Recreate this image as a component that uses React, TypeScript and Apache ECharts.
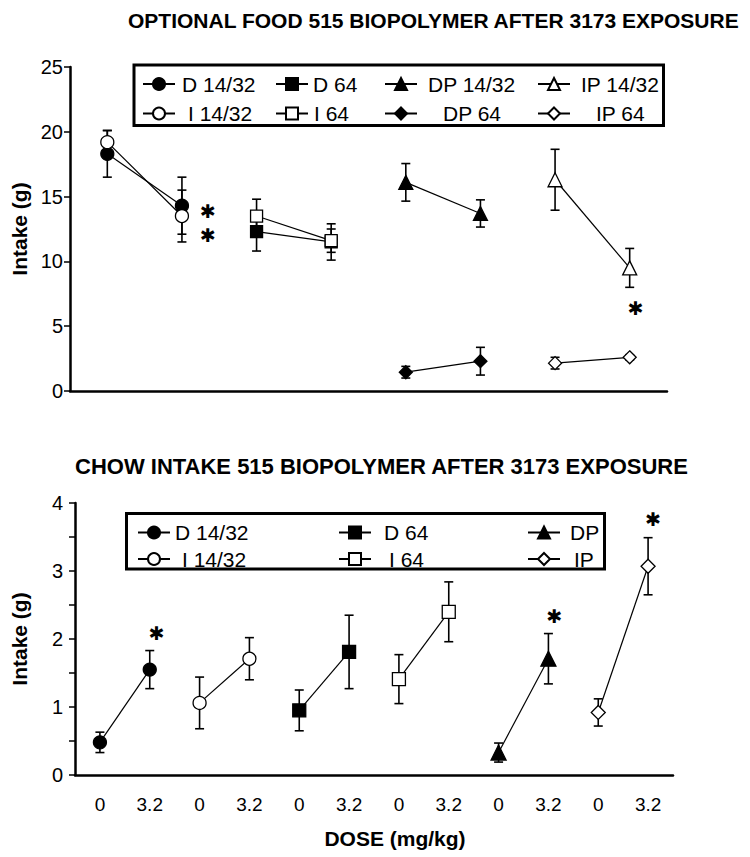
import React, { useEffect, useRef } from "react";
import * as echarts from "echarts";

// ---------- DATA ----------
const topDoses = ["0", "3.2", "0", "3.2", "0", "3.2", "0", "3.2"];
const bottomDoses = ["0", "3.2", "0", "3.2", "0", "3.2", "0", "3.2", "0", "3.2", "0", "3.2"];

const topTitle = "OPTIONAL FOOD 515 BIOPOLYMER AFTER 3173 EXPOSURE";
const bottomTitle = "CHOW INTAKE 515 BIOPOLYMER AFTER 3173 EXPOSURE";

// top panel: means and SEM, each at two category positions
const topD1432 = [18.3, 14.3];
const topD1432Err = [1.8, 2.2];
const topI1432 = [19.2, 13.5];
const topI1432Err = [0.9, 2.0];
const topD64 = [12.3, 11.5];
const topD64Err = [1.5, 1.4];
const topI64 = [13.5, 11.6];
const topI64Err = [1.3, 0.9];
const topDP1432 = [16.1, 13.7];
const topDP1432Err = [1.45, 1.05];
const topIP1432 = [16.3, 9.5];
const topIP1432Err = [2.35, 1.5];
const topDP64 = [1.45, 2.3];
const topDP64Err = [0.45, 1.07];
const topIP64 = [2.15, 2.6];
const topIP64Err = [0.45, 0.2];
const topStars = [[1, 13.9], [1, 12.0], [7, 6.44]];

// bottom panel
const botD1432 = [0.48, 1.55];
const botD1432Err = [0.15, 0.28];
const botI1432 = [1.06, 1.71];
const botI1432Err = [0.38, 0.31];
const botD64 = [0.95, 1.81];
const botD64Err = [0.3, 0.54];
const botI64 = [1.41, 2.4];
const botI64Err = [0.36, 0.44];
const botDP = [0.33, 1.71];
const botDPErr = [0.14, 0.37];
const botIP = [0.92, 3.07];
const botIPErr = [0.2, 0.42];
const botStars = [[1, 2.09], [9, 2.34], [11, 3.76]];

const STAR = "✱";

// ---------- STYLE ----------
const FONT = "'Liberation Sans', Arial, Helvetica, sans-serif";
const STAR_FONT = "'DejaVu Sans', sans-serif";
const BLACK = "#000";

type Spec = {
  name: string;
  idx: number[];
  vals: number[];
  errs: number[];
  symbol: string;
  filled: boolean;
  size: number;
  grid: number;
};

const topSpecs: Spec[] = [
  { name: "D 14/32", idx: [0, 1], vals: topD1432, errs: topD1432Err, symbol: "circle", filled: true, size: 13, grid: 0 },
  { name: "I 14/32", idx: [0, 1], vals: topI1432, errs: topI1432Err, symbol: "circle", filled: false, size: 13, grid: 0 },
  { name: "D 64", idx: [2, 3], vals: topD64, errs: topD64Err, symbol: "rect", filled: true, size: 12, grid: 0 },
  { name: "I 64", idx: [2, 3], vals: topI64, errs: topI64Err, symbol: "rect", filled: false, size: 12, grid: 0 },
  { name: "DP 14/32", idx: [4, 5], vals: topDP1432, errs: topDP1432Err, symbol: "triangle", filled: true, size: 14, grid: 0 },
  { name: "DP 64", idx: [4, 5], vals: topDP64, errs: topDP64Err, symbol: "diamond", filled: true, size: 13, grid: 0 },
  { name: "IP 14/32", idx: [6, 7], vals: topIP1432, errs: topIP1432Err, symbol: "triangle", filled: false, size: 14, grid: 0 },
  { name: "IP 64", idx: [6, 7], vals: topIP64, errs: topIP64Err, symbol: "diamond", filled: false, size: 13, grid: 0 },
];

const botSpecs: Spec[] = [
  { name: "D 14/32", idx: [0, 1], vals: botD1432, errs: botD1432Err, symbol: "circle", filled: true, size: 13, grid: 1 },
  { name: "I 14/32", idx: [2, 3], vals: botI1432, errs: botI1432Err, symbol: "circle", filled: false, size: 13, grid: 1 },
  { name: "D 64", idx: [4, 5], vals: botD64, errs: botD64Err, symbol: "rect", filled: true, size: 13, grid: 1 },
  { name: "I 64", idx: [6, 7], vals: botI64, errs: botI64Err, symbol: "rect", filled: false, size: 13, grid: 1 },
  { name: "DP", idx: [8, 9], vals: botDP, errs: botDPErr, symbol: "triangle", filled: true, size: 15, grid: 1 },
  { name: "IP", idx: [10, 11], vals: botIP, errs: botIPErr, symbol: "diamond", filled: false, size: 14, grid: 1 },
];

const legendItems = [
  // top panel
  { name: "D 14/32", left: 142, cy: 81, pad: 2 },
  { name: "D 64", left: 275, cy: 81, pad: 0 },
  { name: "DP 14/32", left: 384, cy: 81, pad: 6 },
  { name: "IP 14/32", left: 537, cy: 81, pad: 6 },
  { name: "I 14/32", left: 142, cy: 110.5, pad: 8 },
  { name: "I 64", left: 275, cy: 110.5, pad: 1 },
  { name: "DP 64", left: 384, cy: 110.5, pad: 21 },
  { name: "IP 64", left: 537, cy: 110.5, pad: 21 },
  // bottom panel
  { name: "D 14/32", left: 137, cy: 529.5, pad: 0 },
  { name: "D 64", left: 338, cy: 529.5, pad: 8 },
  { name: "DP", left: 527, cy: 529.5, pad: 5 },
  { name: "I 14/32", left: 137, cy: 556, pad: 7 },
  { name: "I 64", left: 338, cy: 556, pad: 13 },
  { name: "IP", left: 527, cy: 556, pad: 9 },
];

const topStarDx = [26, 26, 6];
const botStarDx = [7, 6, 5];

function lineSeries(s: Spec) {
  return {
    type: "line",
    name: s.name,
    xAxisIndex: s.grid,
    yAxisIndex: s.grid,
    data: s.idx.map((x, i) => [x, s.vals[i]]),
    symbol: s.symbol,
    symbolSize: s.size,
    showSymbol: true,
    z: 3,
    lineStyle: { color: BLACK, width: 1.2 },
    itemStyle: {
      color: s.filled ? BLACK : "#fff",
      borderColor: BLACK,
      borderWidth: 1.3,
    },
    emphasis: { disabled: true },
  };
}

function errorSeries(s: Spec) {
  return {
    type: "custom",
    xAxisIndex: s.grid,
    yAxisIndex: s.grid,
    z: 2,
    silent: true,
    encode: { x: 0, y: [1, 2] },
    data: s.idx.map((x, i) => [x, s.vals[i] - s.errs[i], s.vals[i] + s.errs[i]]),
    renderItem: (_p: any, api: any) => {
      const x = api.value(0);
      const lo = api.coord([x, api.value(1)]);
      const hi = api.coord([x, api.value(2)]);
      const hw = 4.5;
      const st = { stroke: BLACK, lineWidth: 1.6 };
      return {
        type: "group",
        children: [
          { type: "line", shape: { x1: lo[0], y1: lo[1], x2: hi[0], y2: hi[1] }, style: st },
          { type: "line", shape: { x1: hi[0] - hw, y1: hi[1], x2: hi[0] + hw, y2: hi[1] }, style: st },
          { type: "line", shape: { x1: lo[0] - hw, y1: lo[1], x2: lo[0] + hw, y2: lo[1] }, style: st },
        ],
      };
    },
  };
}

function starSeries(pts: number[][], dx: number[], grid: number) {
  return {
    type: "scatter",
    xAxisIndex: grid,
    yAxisIndex: grid,
    symbol: "circle",
    symbolSize: 1,
    itemStyle: { color: "rgba(0,0,0,0)" },
    z: 4,
    silent: true,
    data: pts.map((p, i) => ({
      value: p,
      label: {
        show: true,
        position: "inside",
        formatter: STAR,
        fontSize: 19,
        lineHeight: 19,
        fontFamily: STAR_FONT,
        color: BLACK,
        opacity: 1,
        textBorderWidth: 0,
        align: "center",
        offset: [dx[i], 0],
      },
    })),
  };
}

export default function App() {
  const ref = useRef<HTMLDivElement>(null);

  useEffect(() => {
    document.body.style.margin = "0";
    if (!ref.current) return;
    const chart = echarts.init(ref.current, undefined, { renderer: "svg" });

    const axisLine = { show: true, lineStyle: { color: BLACK, width: 2.5 } };

    const option: any = {
      animation: false,
      backgroundColor: "#fff",
      textStyle: { fontFamily: FONT },
      title: [
        {
          text: topTitle,
          left: 128,
          top: 10,
          padding: 0,
          textStyle: { fontSize: 21, fontWeight: "bold", color: BLACK, fontFamily: FONT },
        },
        {
          text: bottomTitle,
          left: 75,
          top: 455,
          padding: 0,
          textStyle: { fontSize: 22, fontWeight: "bold", color: BLACK, fontFamily: FONT },
        },
      ],
      grid: [
        { left: 70, top: 67, width: 597, height: 324 },
        { left: 75, top: 503, width: 598, height: 272 },
      ],
      xAxis: [
        {
          gridIndex: 0,
          type: "category",
          data: topDoses,
          boundaryGap: true,
          axisLine,
          axisTick: { show: false },
          axisLabel: { show: false },
          splitLine: { show: false },
        },
        {
          gridIndex: 1,
          type: "category",
          data: bottomDoses,
          boundaryGap: true,
          axisLine,
          axisTick: { show: false },
          axisLabel: { fontSize: 19, color: BLACK, margin: 20, fontFamily: FONT },
          splitLine: { show: false },
          name: "DOSE (mg/kg)",
          nameLocation: "middle",
          nameGap: 53,
          nameTextStyle: {
            fontSize: 21,
            fontWeight: "bold",
            color: BLACK,
            fontFamily: FONT,
            padding: [0, 0, 0, 42],
          },
        },
      ],
      yAxis: [
        {
          gridIndex: 0,
          type: "value",
          min: 0,
          max: 25,
          interval: 5,
          axisLine,
          axisTick: { show: true, length: 6, lineStyle: { color: BLACK, width: 1.5 } },
          splitLine: { show: false },
          axisLabel: { fontSize: 20, color: BLACK, margin: 7, fontFamily: FONT },
          name: "Intake (g)",
          nameLocation: "middle",
          nameRotate: 90,
          nameGap: 40,
          nameTextStyle: { fontSize: 21, fontWeight: "bold", color: BLACK, fontFamily: FONT },
        },
        {
          gridIndex: 1,
          type: "value",
          min: 0,
          max: 4,
          interval: 1,
          axisLine,
          axisTick: { show: true, length: 6, lineStyle: { color: BLACK, width: 1.5 } },
          minorTick: { show: true, splitNumber: 2, length: 6, lineStyle: { color: BLACK, width: 1.5 } },
          splitLine: { show: false },
          minorSplitLine: { show: false },
          axisLabel: { fontSize: 20, color: BLACK, margin: 12, fontFamily: FONT },
          name: "Intake (g)",
          nameLocation: "middle",
          nameRotate: 90,
          nameGap: 45,
          nameTextStyle: { fontSize: 21, fontWeight: "bold", color: BLACK, fontFamily: FONT },
        },
      ],
      legend: legendItems.map((it) => ({
        data: [it.name],
        left: it.left,
        top: it.cy - 7.5,
        padding: 0,
        itemWidth: 32,
        itemHeight: 15,
        selectedMode: false,
        textStyle: { fontSize: 21, color: BLACK, fontFamily: FONT, padding: [0, 0, 0, it.pad] },
      })),
      graphic: [
        {
          type: "rect",
          shape: { x: 134, y: 65, width: 529.5, height: 60.5 },
          style: { fill: "none", stroke: BLACK, lineWidth: 3 },
          z: 10,
        },
        {
          type: "rect",
          shape: { x: 126.5, y: 513.5, width: 478, height: 55.5 },
          style: { fill: "none", stroke: BLACK, lineWidth: 3 },
          z: 10,
        },
      ],
      series: [
        ...topSpecs.map(errorSeries),
        ...botSpecs.map(errorSeries),
        ...topSpecs.map(lineSeries),
        ...botSpecs.map(lineSeries),
        starSeries(topStars, topStarDx, 0),
        starSeries(botStars, botStarDx, 1),
      ],
    };

    chart.setOption(option);
    return () => chart.dispose();
  }, []);

  return <div ref={ref} style={{ width: 750, height: 857 }} />;
}
